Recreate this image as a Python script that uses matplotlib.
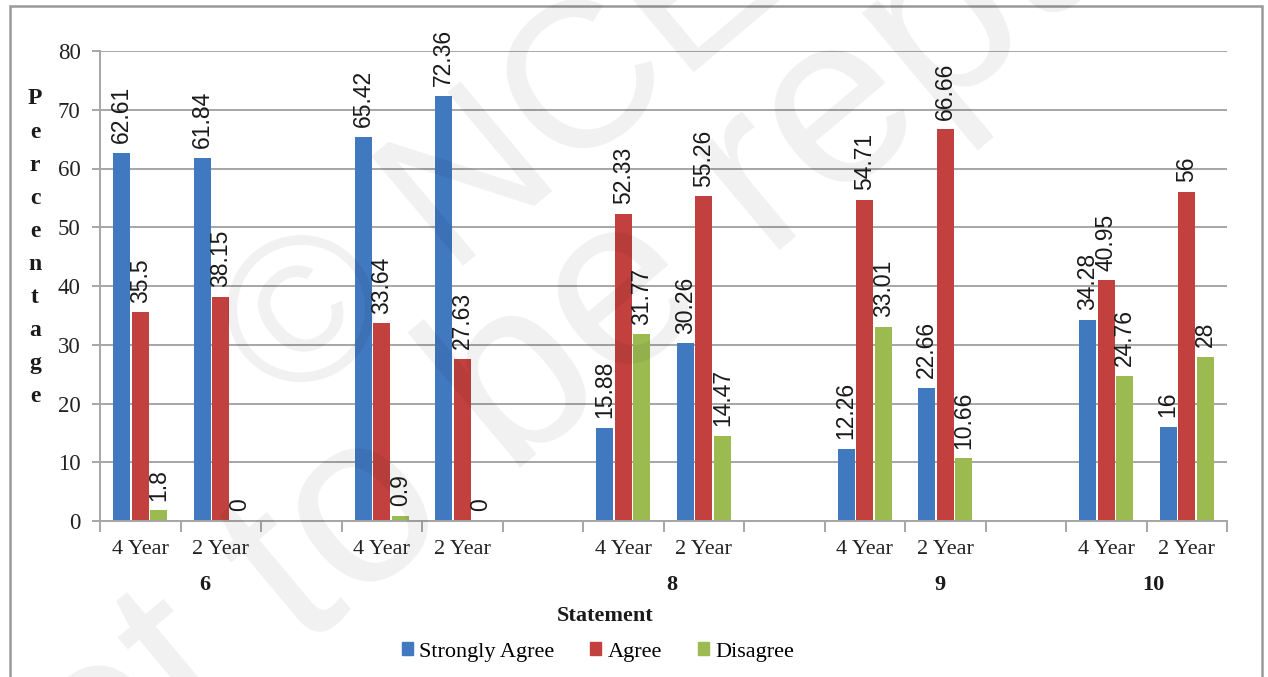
import numpy as np
import matplotlib
matplotlib.use("Agg")
import matplotlib.pyplot as plt
from matplotlib.patches import Patch, Rectangle

nan = np.nan

# slot labels on the category axis ('' = empty spacer slot)
slots = ["4 Year", "2 Year", "", "4 Year", "2 Year", "",
         "4 Year", "2 Year", "", "4 Year", "2 Year", "",
         "4 Year", "2 Year"]
strongly_agree = [62.61, 61.84, nan, 65.42, 72.36, nan,
                  15.88, 30.26, nan, 12.26, 22.66, nan, 34.28, 16]
agree = [35.5, 38.15, nan, 33.64, 27.63, nan,
         52.33, 55.26, nan, 54.71, 66.66, nan, 40.95, 56]
disagree = [1.8, 0, nan, 0.9, 0, nan,
            31.77, 14.47, nan, 33.01, 10.66, nan, 24.76, 28]
series_names = ["Strongly Agree", "Agree", "Disagree"]
statements = ["6", "8", "9", "10"]
statement_x = [0.80, 6.60, 9.93, 12.59]   # where the group label sits on the slot axis

colors = ["#4079C0", "#C2413F", "#9BBB50"]
serif = "Liberation Serif"
sans = "Liberation Sans"
grid_c = "#A6A6A6"
txt_c = "#222222"

W, H = 1268, 677
fig = plt.figure(figsize=(W / 100, H / 100), dpi=100)
ax = fig.add_axes([100 / W, 1 - 521 / H, 1127 / W, 470 / H])

x = np.arange(len(slots))
bw, off = 0.215, 0.23
for k, vals in enumerate([strongly_agree, agree, disagree]):
    xs = x + (k - 1) * off
    ax.bar(xs, vals, width=bw, color=colors[k], zorder=2)
    for xi, v in zip(xs, vals):
        if np.isnan(v):
            continue
        ax.annotate(f"{v:g}", (xi, v), xytext=(0, 7), textcoords="offset points",
                    rotation=90, ha="center", va="bottom", fontsize=16.5,
                    family=sans, color="#1a1a1a", zorder=3)

ax.set_xlim(-0.5, len(slots) - 0.5)
ax.set_ylim(0, 80)
ax.set_yticks(range(0, 81, 10))
ax.yaxis.grid(True, color=grid_c, lw=1.4, zorder=1)
ax.set_axisbelow(True)
for s in ["top", "right"]:
    ax.spines[s].set_visible(False)
for s in ["left", "bottom"]:
    ax.spines[s].set_color(grid_c)
    ax.spines[s].set_linewidth(1.4)

# category tick marks on slot boundaries, labels at slot centres
ax.set_xticks(np.arange(len(slots) + 1) - 0.5)
ax.set_xticklabels([])
ax.set_xticks(x, minor=True)
ax.set_xticklabels(slots, minor=True, family=serif, fontsize=16, color=txt_c)
ax.tick_params(axis="x", which="major", length=8, width=1.4, color=grid_c)
ax.tick_params(axis="x", which="minor", length=0, pad=14)
ax.tick_params(axis="y", length=6, width=1.4, color=grid_c, pad=8)
for t in ax.get_yticklabels():
    t.set_family(serif); t.set_fontsize(16.5); t.set_color(txt_c)

for name, sx in zip(statements, statement_x):
    ax.text(sx, -0.136, name, transform=ax.get_xaxis_transform(), ha="center",
            va="center", family=serif, fontsize=16, fontweight="bold", color="#1a1a1a")

fig.text(605 / W, 1 - 616 / H, "Statement", ha="center", va="center",
         family=serif, fontsize=16, fontweight="bold", color="#1a1a1a")

# vertical stacked y label
for i, ch in enumerate("Percentage"):
    fig.text(35 / W, 1 - (99 + i * 33.1) / H, ch, ha="center", va="center",
             family=serif, fontsize=17, fontweight="bold", color="#1a1a1a")

handles = [Patch(color=c) for c in colors]
fig.legend(handles, series_names, loc="center", bbox_to_anchor=(598 / W, 1 - 652 / H),
           ncol=3, frameon=False, handlelength=0.5, handleheight=0.5,
           handletextpad=0.3, columnspacing=1.6,
           prop={"family": serif, "size": 16})

# outer frame
fig.patches.append(Rectangle((10 / W, -0.05), 1252 / W, 1 - 6 / H + 0.05,
                             transform=fig.transFigure, fill=False,
                             edgecolor="#999999", lw=1.8))

# faint watermark
fig.text(608 / W, 1 - 74 / H, "\u00a9 NCERT", rotation=40, ha="center", va="center",
         rotation_mode="anchor", fontsize=150, family=sans, color="black",
         alpha=0.06, zorder=10)
fig.text(820 / W, 1 - 135 / H, "not to be republished", rotation=40, ha="center",
         va="center", rotation_mode="anchor", fontsize=175, family=sans,
         color="black", alpha=0.06, zorder=10)

fig.savefig("out.png", dpi=100)
